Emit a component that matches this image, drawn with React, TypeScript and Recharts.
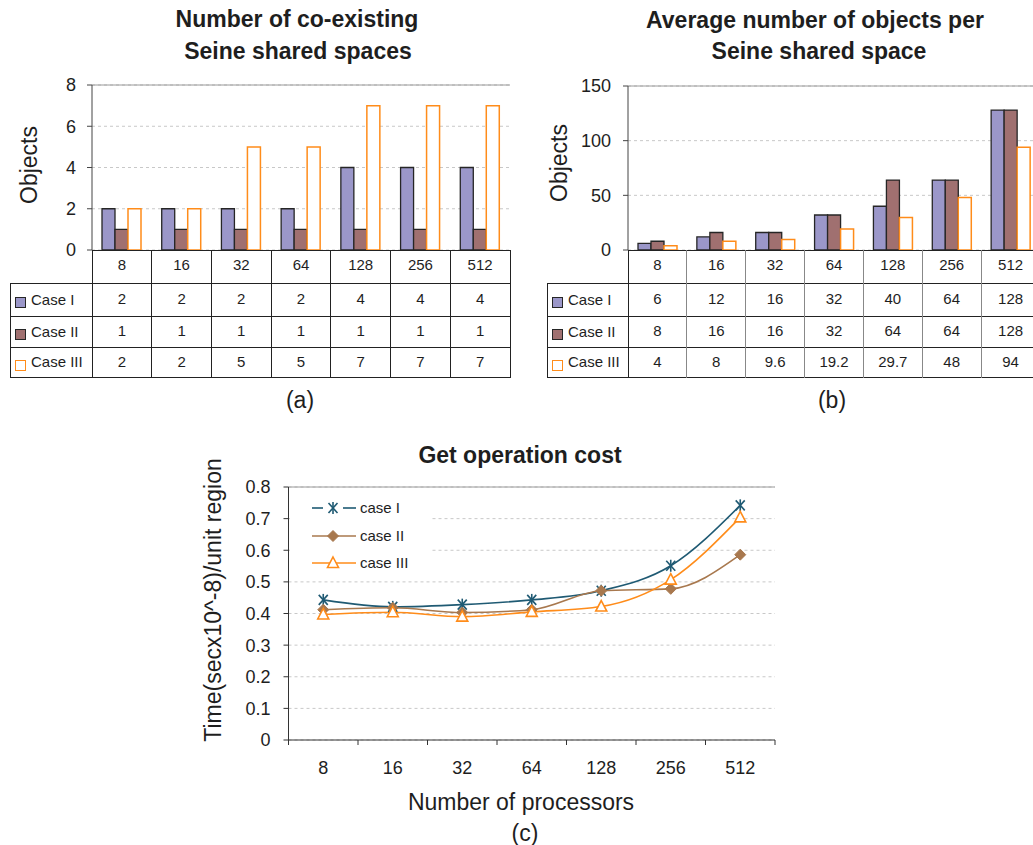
import React from 'react';
import { BarChart, Bar, LineChart, Line, XAxis, YAxis, CartesianGrid, ReferenceLine } from 'recharts';

// ---------- data ----------
const processors = ['8', '16', '32', '64', '128', '256', '512'];
const caseLabels = ['Case I', 'Case II', 'Case III'];
const lineLabels = ['case I', 'case II', 'case III'];

const coexistCase1 = [2, 2, 2, 2, 4, 4, 4];
const coexistCase2 = [1, 1, 1, 1, 1, 1, 1];
const coexistCase3 = [2, 2, 5, 5, 7, 7, 7];

const avgObjCase1 = [6, 12, 16, 32, 40, 64, 128];
const avgObjCase2 = [8, 16, 16, 32, 64, 64, 128];
const avgObjCase3 = [4, 8, 9.6, 19.2, 29.7, 48, 94];

const getCostCase1 = [0.443, 0.421, 0.428, 0.443, 0.472, 0.551, 0.742];
const getCostCase2 = [0.412, 0.418, 0.403, 0.412, 0.472, 0.478, 0.586];
const getCostCase3 = [0.397, 0.404, 0.39, 0.405, 0.422, 0.507, 0.704];

const ticksA = [0, 2, 4, 6, 8];
const ticksB = [0, 50, 100, 150];
const ticksC = [0, 0.1, 0.2, 0.3, 0.4, 0.5, 0.6, 0.7, 0.8];
const tickLabelsC = ['0', '0.1', '0.2', '0.3', '0.4', '0.5', '0.6', '0.7', '0.8'];

const dataA = processors.map((p, i) => ({ p, c1: coexistCase1[i], c2: coexistCase2[i], c3: coexistCase3[i] }));
const dataB = processors.map((p, i) => ({ p, c1: avgObjCase1[i], c2: avgObjCase2[i], c3: avgObjCase3[i] }));
const dataC = processors.map((p, i) => ({ p, c1: getCostCase1[i], c2: getCostCase2[i], c3: getCostCase3[i] }));

// ---------- styles ----------
const FONT = '"Liberation Sans", Arial, Helvetica, sans-serif';
const TXT = '#1e1e1e';
const FILL1 = '#9b97c9';
const FILL2 = '#a07070';
const ORANGE = '#ff8c1a';
const BAR_EDGE = '#262626';
const L1 = '#1f5a73';
const L2 = '#a8784e';
const L3 = '#ff8c1a';
const GRID = '#c8c8c8';
const BORDER = '#9a9a9a';

// ---------- helpers ----------
function VText(props: any) {
  const { px, py, text, fsize, rot = 0 } = props;
  return (
    <text
      x={px}
      y={py}
      transform={rot ? `rotate(${rot}, ${px}, ${py})` : undefined}
      textAnchor="middle"
      dominantBaseline="central"
      fontFamily={FONT}
      fontSize={fsize}
      fill={TXT}
    >
      {text}
    </text>
  );
}

function Caption(props: any) {
  const { cx, cy, text, size, bold } = props;
  return (
    <div
      style={{
        position: 'absolute',
        left: cx - 300,
        top: cy - size * 0.7,
        width: 600,
        textAlign: 'center',
        fontSize: size,
        lineHeight: `${size * 1.4}px`,
        fontWeight: bold ? 'bold' : 'normal',
        fontFamily: FONT,
        color: TXT,
        whiteSpace: 'nowrap',
      }}
    >
      {text}
    </div>
  );
}

function DataTable(props: any) {
  const { plotL, plotR, leftX, rowY, values, vColor } = props;
  const n = processors.length;
  const w = (plotR - plotL) / n;
  const els: any[] = [];
  const dark = '#222';
  rowY.forEach((y: number, r: number) => {
    const x0 = r === 0 ? plotL : leftX;
    els.push(
      <div key={'h' + r} style={{ position: 'absolute', left: x0, top: y - 0.5, width: plotR - x0 + 0.5, height: 1, background: dark }} />
    );
  });
  const yTop = rowY[0];
  const yBot = rowY[rowY.length - 1];
  els.push(
    <div key="vl" style={{ position: 'absolute', left: leftX - 0.5, top: rowY[1] - 0.5, width: 1, height: yBot - rowY[1] + 1, background: dark }} />
  );
  for (let i = 0; i <= n; i++) {
    const x = plotL + i * w;
    els.push(
      <div
        key={'v' + i}
        style={{ position: 'absolute', left: x - 0.5, top: yTop - 0.5, width: 1, height: yBot - yTop + 1, background: i === 0 || i === n ? dark : vColor }}
      />
    );
  }
  const cellStyle = (x: number, y0: number, y1: number, wd: number): any => ({
    position: 'absolute',
    left: x,
    top: y0,
    width: wd,
    height: y1 - y0,
    display: 'flex',
    alignItems: 'center',
    justifyContent: 'center',
    fontFamily: FONT,
    fontSize: 15,
    color: TXT,
  });
  processors.forEach((p, i) => {
    els.push(<div key={'c' + i} style={cellStyle(plotL + i * w, rowY[0] - 2, rowY[1] - 2, w)}>{p}</div>);
  });
  values.forEach((arr: number[], r: number) => {
    arr.forEach((v, i) => {
      els.push(<div key={'d' + r + '_' + i} style={cellStyle(plotL + i * w, rowY[r + 1] - 1, rowY[r + 2] - 1, w)}>{String(v)}</div>);
    });
    const yc = (rowY[r + 1] + rowY[r + 2]) / 2;
    const sqFill = r === 0 ? FILL1 : r === 1 ? FILL2 : '#fff';
    const sqEdge = r === 2 ? ORANGE : BAR_EDGE;
    els.push(
      <div
        key={'sq' + r}
        style={{ position: 'absolute', left: leftX + 5, top: yc - 2.5, width: 9, height: 9, background: sqFill, border: `1.5px solid ${sqEdge}` }}
      />
    );
    els.push(
      <div
        key={'lb' + r}
        style={{ position: 'absolute', left: leftX + 21, top: yc - 10, height: 20, lineHeight: '20px', fontFamily: FONT, fontSize: 15, color: TXT, whiteSpace: 'nowrap' }}
      >
        {caseLabels[r]}
      </div>
    );
  });
  return <>{els}</>;
}

// ---------- markers ----------
const starDot = (p: any) => {
  const { cx, cy, index } = p;
  if (cx == null || cy == null) return <g key={'s' + index} />;
  return (
    <g key={'s' + index} stroke={L1} strokeWidth={1.6}>
      <line x1={cx - 4.5} y1={cy - 5} x2={cx + 4.5} y2={cy + 5} />
      <line x1={cx - 4.5} y1={cy + 5} x2={cx + 4.5} y2={cy - 5} />
      <line x1={cx} y1={cy - 6} x2={cx} y2={cy + 6} />
    </g>
  );
};
const diamondDot = (p: any) => {
  const { cx, cy, index } = p;
  if (cx == null || cy == null) return <g key={'d' + index} />;
  return <path key={'d' + index} d={`M${cx},${cy - 5.5} L${cx + 5.5},${cy} L${cx},${cy + 5.5} L${cx - 5.5},${cy} Z`} fill={L2} stroke={L2} strokeWidth={1} />;
};
const triDot = (p: any) => {
  const { cx, cy, index } = p;
  if (cx == null || cy == null) return <g key={'t' + index} />;
  return <path key={'t' + index} d={`M${cx},${cy - 6} L${cx + 5.5},${cy + 4.5} L${cx - 5.5},${cy + 4.5} Z`} fill="#fff" stroke={L3} strokeWidth={1.6} />;
};

// ---------- chart C geometry ----------
const C_LEFT = 190;
const C_TOP = 440;
const C_W = 600;
const C_H = 380;
const C_YAXIS_W = 98.5;
const C_MR = 15;
const BAND_C = (C_W - C_MR - C_YAXIS_W) / processors.length;

function CostTick(props: any) {
  const { x, y, payload, index } = props;
  const half = BAND_C / 2;
  return (
    <g>
      <line x1={x - half} x2={x - half} y1={y} y2={y + 5} stroke="#333" />
      {index === processors.length - 1 && <line x1={x + half} x2={x + half} y1={y} y2={y + 5} stroke="#333" />}
      <text x={x} y={y + 28} dy="0.36em" textAnchor="middle" fontFamily={FONT} fontSize={18} fill={TXT}>
        {payload.value}
      </text>
    </g>
  );
}

function LegendC() {
  const rows = [20, 48, 75];
  return (
    <div style={{ position: 'absolute', left: 290, top: 489, width: 140, height: 86, background: '#fff' }}>
      <svg width={140} height={86} style={{ display: 'block' }}>
        {rows.map((ry, i) => {
          const y = ry - 1;
          const col = i === 0 ? L1 : i === 1 ? L2 : L3;
          const dot = i === 0 ? starDot : i === 1 ? diamondDot : triDot;
          return (
            <g key={i}>
              {i === 0 ? (
                <>
                  <line x1={22} x2={33} y1={y} y2={y} stroke={col} strokeWidth={1.6} />
                  <line x1={53} x2={66} y1={y} y2={y} stroke={col} strokeWidth={1.6} />
                </>
              ) : (
                <line x1={22} x2={66} y1={y} y2={y} stroke={col} strokeWidth={1.6} />
              )}
              {dot({ cx: 43, cy: y, index: 'lg' + i })}
              <text x={70} y={y} dy="0.36em" fontFamily={FONT} fontSize={15} fill={TXT}>
                {lineLabels[i]}
              </text>
            </g>
          );
        })}
      </svg>
    </div>
  );
}

const tableRowsY = [250, 283, 316, 347, 377];

export default function App() {
  return (
    <div style={{ position: 'absolute', left: 0, top: 0, width: 1033, height: 845, overflow: 'hidden', background: '#fff', fontFamily: FONT }}>
      {/* ---------- (a) ---------- */}
      <Caption cx={297} cy={19} text="Number of co-existing" size={23} bold />
      <Caption cx={298} cy={51} text="Seine shared spaces" size={23} bold />
      <div style={{ position: 'absolute', left: 0, top: 0 }}>
        <BarChart width={520} height={260} data={dataA} margin={{ top: 85, right: 10, bottom: 10, left: 0 }} barGap={0} barSize={13}>
          <CartesianGrid vertical={false} stroke={GRID} strokeDasharray="3 3" />
          <XAxis dataKey="p" hide />
          <YAxis
            domain={[0, 8]}
            ticks={ticksA}
            width={92}
            tickSize={5}
            tickMargin={11}
            interval={0}
            axisLine={{ stroke: '#444' }}
            tickLine={{ stroke: '#444' }}
            tick={{ fontSize: 18, fill: TXT, fontFamily: FONT }}
            label={<VText px={29} py={165} text="Objects" fsize={23} rot={-90} />}
          />
          <YAxis yAxisId="r" orientation="right" width={0} tick={false} tickLine={false} axisLine={{ stroke: BORDER }} />
          <ReferenceLine y={8} stroke={BORDER} strokeWidth={1} />
          <Bar dataKey="c1" fill={FILL1} stroke={BAR_EDGE} strokeWidth={1.3} isAnimationActive={false} />
          <Bar dataKey="c2" fill={FILL2} stroke={BAR_EDGE} strokeWidth={1.3} isAnimationActive={false} />
          <Bar dataKey="c3" fill="#fff" stroke={ORANGE} strokeWidth={1.5} isAnimationActive={false} />
        </BarChart>
      </div>
      <DataTable plotL={92} plotR={510} leftX={10} rowY={tableRowsY} values={[coexistCase1, coexistCase2, coexistCase3]} vColor="#222" />
      <Caption cx={300} cy={400} text="(a)" size={23} />

      {/* ---------- (b) ---------- */}
      <Caption cx={815} cy={20} text="Average number of objects per" size={23} bold />
      <Caption cx={819} cy={51.5} text="Seine shared space" size={23} bold />
      <div style={{ position: 'absolute', left: 520, top: 0 }}>
        <BarChart width={530} height={260} data={dataB} margin={{ top: 86, right: 10, bottom: 10, left: 0 }} barGap={0} barSize={13}>
          <CartesianGrid vertical={false} stroke={GRID} strokeDasharray="3 3" />
          <XAxis dataKey="p" hide />
          <YAxis
            domain={[0, 150]}
            ticks={ticksB}
            width={108}
            tickSize={5}
            tickMargin={12}
            interval={0}
            axisLine={{ stroke: '#444' }}
            tickLine={{ stroke: '#444' }}
            tick={{ fontSize: 18, fill: TXT, fontFamily: FONT }}
            label={<VText px={39} py={163} text="Objects" fsize={23} rot={-90} />}
          />
          <YAxis yAxisId="r" orientation="right" width={0} tick={false} tickLine={false} axisLine={{ stroke: BORDER }} />
          <ReferenceLine y={150} stroke={BORDER} strokeWidth={1} />
          <Bar dataKey="c1" fill={FILL1} stroke={BAR_EDGE} strokeWidth={1.3} isAnimationActive={false} />
          <Bar dataKey="c2" fill={FILL2} stroke={BAR_EDGE} strokeWidth={1.3} isAnimationActive={false} />
          <Bar dataKey="c3" fill="#fff" stroke={ORANGE} strokeWidth={1.5} isAnimationActive={false} />
        </BarChart>
      </div>
      <DataTable plotL={628} plotR={1040} leftX={547} rowY={tableRowsY} values={[avgObjCase1, avgObjCase2, avgObjCase3]} vColor="#888" />
      <Caption cx={832} cy={400} text="(b)" size={23} />

      {/* ---------- (c) ---------- */}
      <Caption cx={520} cy={455} text="Get operation cost" size={23} bold />
      <div style={{ position: 'absolute', left: C_LEFT, top: C_TOP }}>
        <LineChart width={C_W} height={C_H} data={dataC} margin={{ top: 47, right: C_MR, bottom: 0, left: 0 }}>
          <CartesianGrid vertical={false} stroke={GRID} strokeDasharray="3 3" />
          <XAxis
            dataKey="p"
            height={80}
            interval={0}
            padding={{ left: BAND_C / 2, right: BAND_C / 2 }}
            axisLine={{ stroke: '#333' }}
            tickLine={false}
            tickSize={0}
            tickMargin={0}
            tick={<CostTick />}
            label={<VText px={331} py={362} text="Number of processors" fsize={23} />}
          />
          <YAxis
            domain={[0, 0.8]}
            ticks={ticksC}
            width={C_YAXIS_W}
            tickSize={5}
            tickMargin={13}
            interval={0}
            tickFormatter={(v: number) => tickLabelsC[ticksC.indexOf(v)] ?? String(v)}
            axisLine={{ stroke: '#333' }}
            tickLine={{ stroke: '#333' }}
            tick={{ fontSize: 18, fill: TXT, fontFamily: FONT }}
            label={<VText px={23} py={160} text="Time(secx10^-8)/unit region" fsize={23} rot={-90} />}
          />
          <YAxis yAxisId="r" orientation="right" width={0} tick={false} tickLine={false} axisLine={{ stroke: BORDER }} />
          <ReferenceLine y={0.8} stroke={BORDER} strokeWidth={1} />
          <Line dataKey="c1" type="monotone" stroke={L1} strokeWidth={1.6} dot={starDot} isAnimationActive={false} />
          <Line dataKey="c2" type="monotone" stroke={L2} strokeWidth={1.6} dot={diamondDot} isAnimationActive={false} />
          <Line dataKey="c3" type="monotone" stroke={L3} strokeWidth={1.6} dot={triDot} isAnimationActive={false} />
        </LineChart>
      </div>
      <LegendC />
      <Caption cx={525} cy={833} text="(c)" size={23} />
    </div>
  );
}
